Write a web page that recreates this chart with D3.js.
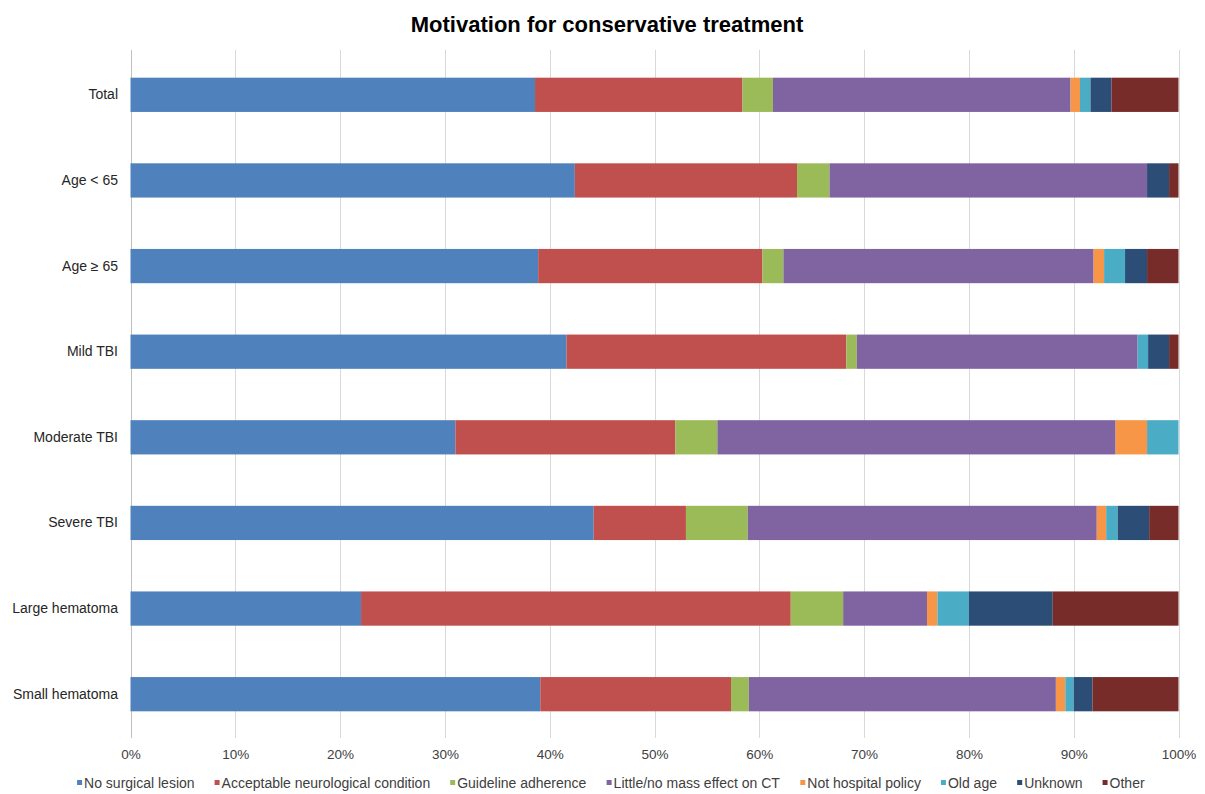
<!DOCTYPE html>
<html>
<head>
<meta charset="utf-8">
<script src="https://cdn.jsdelivr.net/npm/d3@7"></script>
<style>
  html, body { margin: 0; padding: 0; background: #fff; }
  svg { display: block; font-family: "Liberation Sans", Arial, sans-serif; }
</style>
</head>
<body>
<svg id="chart" width="1205" height="794"></svg>
<script>
// Groups shown as rows, top to bottom
const categories = ["Total", "Age < 65", "Age \u2265 65", "Mild TBI", "Moderate TBI", "Severe TBI", "Large hematoma", "Small hematoma"];

// Reasons (stack order, left to right)
const reasons = ["No surgical lesion", "Acceptable neurological condition", "Guideline adherence", "Little/no mass effect on CT", "Not hospital policy", "Old age", "Unknown", "Other"];

// Share of each reason per group (%), one array per reason, in category order
const noSurgicalLesion      = [38.6, 42.4, 38.9, 41.6, 31.0, 44.2, 22.0, 39.1];
const acceptableNeuro       = [19.8, 21.2, 21.4, 26.7, 21.0,  8.8, 41.0, 18.2];
const guidelineAdherence    = [ 2.9,  3.1,  2.0,  1.0,  4.0,  5.9,  5.0,  1.7];
const littleMassEffect      = [28.4, 30.3, 29.6, 26.8, 38.0, 33.3,  8.0, 29.3];
const notHospitalPolicy     = [ 0.9,  0.0,  1.0,  0.0,  3.0,  0.9,  1.0,  0.9];
const oldAge                = [ 1.0,  0.0,  2.0,  1.0,  3.0,  1.1,  3.0,  0.8];
const unknown               = [ 2.0,  2.1,  2.1,  2.0,  0.0,  3.0,  8.0,  1.8];
const other                 = [ 6.4,  0.9,  3.0,  0.9,  0.0,  2.8, 12.0,  8.2];

const seriesValues = [noSurgicalLesion, acceptableNeuro, guidelineAdherence, littleMassEffect, notHospitalPolicy, oldAge, unknown, other];

const xTicks = [0, 10, 20, 30, 40, 50, 60, 70, 80, 90, 100];

const colors = ["#4F81BD", "#C0504D", "#9BBB59", "#8064A2", "#F79646", "#4BACC6", "#2C4D75", "#772C2A"];

// Build row records for d3.stack
const rows = categories.map((c, i) => {
  const r = { category: c };
  reasons.forEach((k, j) => { r[k] = seriesValues[j][i]; });
  return r;
});

const stacked = d3.stack().keys(reasons)(rows);

const svg = d3.select("#chart");

const x = d3.scaleLinear().domain([0, 100]).range([130.5, 1178.5]);
const y = d3.scaleBand().domain(categories).range([52, 737]).paddingInner(0.6).paddingOuter(0.3);
const color = d3.scaleOrdinal().domain(reasons).range(colors);

// Title
svg.append("text")
  .attr("x", 607).attr("y", 32)
  .attr("text-anchor", "middle")
  .style("font-size", "22px").style("font-weight", "bold").style("fill", "#000")
  .text("Motivation for conservative treatment");

// Vertical gridlines
svg.append("g").selectAll("line")
  .data(xTicks)
  .join("line")
  .attr("x1", d => Math.round(x(d)) + 0.5).attr("x2", d => Math.round(x(d)) + 0.5)
  .attr("y1", 50).attr("y2", 738)
  .attr("stroke", d => d === 0 ? "#bfbfbf" : "#d9d9d9")
  .attr("stroke-width", 1);

// Stacked bars
svg.append("g").selectAll("g")
  .data(stacked)
  .join("g")
  .attr("fill", d => color(d.key))
  .selectAll("rect")
  .data(d => d)
  .join("rect")
  .attr("x", d => x(d[0]))
  .attr("y", d => y(d.data.category))
  .attr("width", d => Math.max(0, x(d[1]) - x(d[0])))
  .attr("height", y.bandwidth());

// X axis labels
const xAxis = d3.axisBottom(x).tickValues(xTicks).tickFormat(d => d + "%").tickSize(0).tickPadding(0);
const gx = svg.append("g").attr("transform", "translate(0,749)").call(xAxis);
gx.select(".domain").remove();
gx.selectAll("text").style("font-size", "13.5px").style("fill", "#404040")
  .style("font-family", "'Liberation Sans', Arial, sans-serif");

// Y axis labels
const yAxis = d3.axisLeft(y).tickSize(0).tickPadding(12);
const gy = svg.append("g").attr("transform", "translate(130,0)").call(yAxis);
gy.select(".domain").remove();
gy.selectAll("text").style("font-size", "14px").style("fill", "#262626")
  .style("font-family", "'Liberation Sans', Arial, sans-serif");

// Legend along the bottom
const legend = svg.append("g");
const items = legend.selectAll("g").data(reasons).join("g");
items.append("rect").attr("width", 5).attr("height", 5).attr("y", -8).attr("fill", d => color(d));
items.append("text").attr("x", 7).attr("y", 0)
  .style("font-size", "14px").style("fill", "#404040")
  .text(d => d);

let cursor = 0;
const gap = 20;
items.each(function () {
  const w = this.getBBox().width;
  d3.select(this).attr("transform", `translate(${cursor},788)`);
  cursor += w + gap;
});
const total = cursor - gap;
legend.attr("transform", `translate(${611 - total / 2},0)`);
</script>
</body>
</html>
